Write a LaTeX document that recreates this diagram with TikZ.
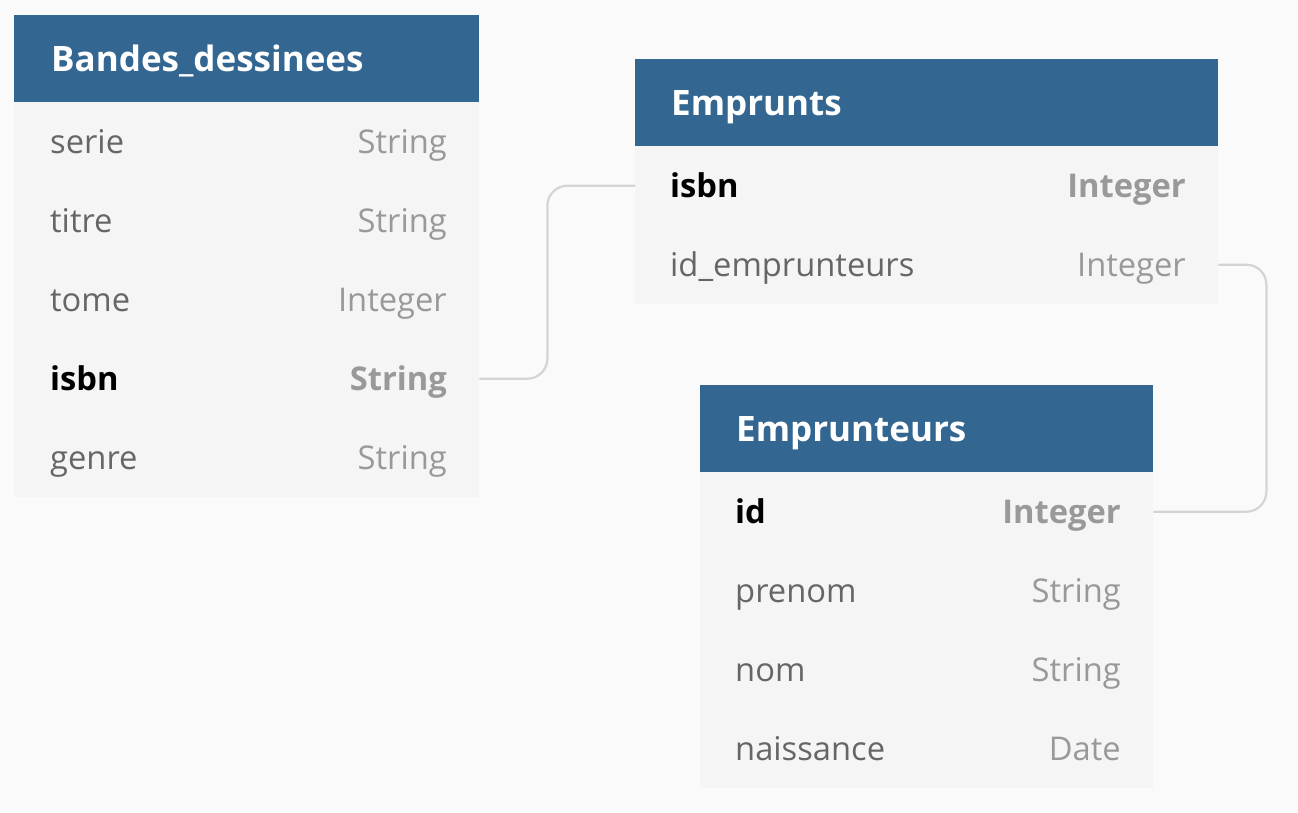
\documentclass[tikz,border=0pt]{standalone}
\usepackage{fontspec}
\setmainfont{Open Sans}
\definecolor{bgc}{HTML}{FAFAFA}
\definecolor{hdrc}{HTML}{336791}
\definecolor{rowc}{HTML}{F5F5F5}
\definecolor{namec}{HTML}{666666}
\definecolor{typec}{HTML}{999999}
\definecolor{connc}{HTML}{D4D4D4}
\begin{document}
\begin{tikzpicture}[x=1pt,y=-1pt,
  hdr/.style={fill=hdrc, draw=none, anchor=north west, inner sep=0pt, minimum height=87pt},
  body/.style={fill=rowc, draw=none, anchor=north west, inner sep=0pt},
  rowbox/.style={draw=none, anchor=north west, inner sep=0pt, minimum height=79pt},
  htext/.style={anchor=base west, inner sep=0pt, text=white, font=\fontsize{35}{42}\selectfont\bfseries},
  fname/.style={anchor=base west, inner sep=0pt, text=namec, font=\fontsize{32.7}{40}\selectfont},
  ftype/.style={anchor=base east, inner sep=0pt, text=typec, font=\fontsize{32.7}{40}\selectfont},
  kname/.style={anchor=base west, inner sep=0pt, text=black, font=\fontsize{32.7}{40}\selectfont\bfseries},
  ktype/.style={anchor=base east, inner sep=0pt, text=typec, font=\fontsize{32.7}{40}\selectfont\bfseries},
  conn/.style={draw=connc, line width=2.2pt, rounded corners=20pt}
]
\useasboundingbox[fill=bgc] (0,0) rectangle (1298,812);

% ---------- Table 1: Bandes_dessinees ----------
\node[hdr, minimum width=465pt] (t1h) at (14,15) {};
\node[body, minimum width=465pt, minimum height=395pt] (t1b) at (14,102) {};
\node[htext] (t1ht) at (51,71) {Bandes\_dessinees};
\node[rowbox, minimum width=465pt] (t1r1) at (14,102) {};
\node[rowbox, minimum width=465pt] (t1r2) at (14,181) {};
\node[rowbox, minimum width=465pt] (t1r3) at (14,260) {};
\node[rowbox, minimum width=465pt] (t1r4) at (14,339) {};
\node[rowbox, minimum width=465pt] (t1r5) at (14,418) {};
\node[fname] (t1n1) at (50,153) {serie};
\node[ftype] (t1y1) at (447,153) {String};
\node[fname] (t1n2) at (50,232) {titre};
\node[ftype] (t1y2) at (447,232) {String};
\node[fname] (t1n3) at (50,311) {tome};
\node[ftype] (t1y3) at (447,311) {Integer};
\node[kname] (t1n4) at (50,390) {isbn};
\node[ktype] (t1y4) at (447,390) {String};
\node[fname] (t1n5) at (50,469) {genre};
\node[ftype] (t1y5) at (447,469) {String};

% ---------- Table 2: Emprunts ----------
\node[hdr, minimum width=583pt] (t2h) at (635,59) {};
\node[body, minimum width=583pt, minimum height=158pt] (t2b) at (635,146) {};
\node[htext] (t2ht) at (671,115) {Emprunts};
\node[rowbox, minimum width=583pt] (t2r1) at (635,146) {};
\node[rowbox, minimum width=583pt] (t2r2) at (635,225) {};
\node[kname] (t2n1) at (670,197) {isbn};
\node[ktype] (t2y1) at (1186,197) {Integer};
\node[fname] (t2n2) at (670,276) {id\_emprunteurs};
\node[ftype] (t2y2) at (1186,276) {Integer};

% ---------- Table 3: Emprunteurs ----------
\node[hdr, minimum width=453pt] (t3h) at (700,385) {};
\node[body, minimum width=453pt, minimum height=316pt] (t3b) at (700,472) {};
\node[htext] (t3ht) at (736,441) {Emprunteurs};
\node[rowbox, minimum width=453pt] (t3r1) at (700,472) {};
\node[rowbox, minimum width=453pt] (t3r2) at (700,551) {};
\node[rowbox, minimum width=453pt] (t3r3) at (700,630) {};
\node[rowbox, minimum width=453pt] (t3r4) at (700,709) {};
\node[kname] (t3n1) at (735,523) {id};
\node[ktype] (t3y1) at (1121,523) {Integer};
\node[fname] (t3n2) at (735,602) {prenom};
\node[ftype] (t3y2) at (1121,602) {String};
\node[fname] (t3n3) at (735,681) {nom};
\node[ftype] (t3y3) at (1121,681) {String};
\node[fname] (t3n4) at (735,760) {naissance};
\node[ftype] (t3y4) at (1121,760) {Date};

% ---------- Connectors ----------
\draw[conn] (t1r4.east) -- ++(68,0) |- (t2r1.west);
\draw[conn] (t2r2.east) -- ++(48,0) |- (t3r1.east);
\end{tikzpicture}
\end{document}
